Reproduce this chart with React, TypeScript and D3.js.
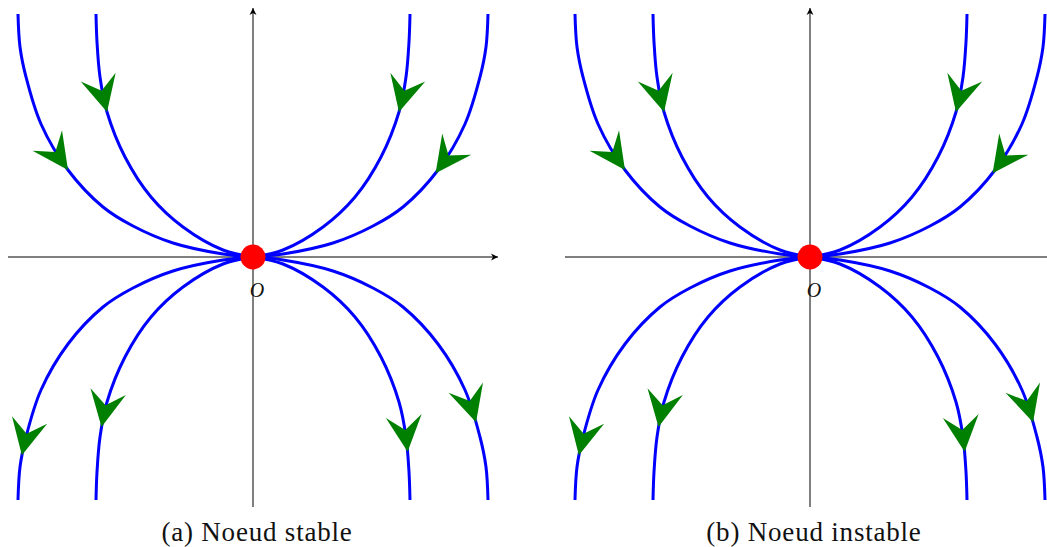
import React, { useEffect, useRef } from "react";
import * as d3 from "d3";

const WIDTH = 1047;
const HEIGHT = 547;

// Horizontal offset of each phase portrait and its caption.
const panelOffsets = [0, 557];
const captions = ["(a) Noeud stable", "(b) Noeud instable"];
const originLabel = "O";

// Trajectory shapes in the first quadrant, as (|x|, |y|) pairs, origin first.
const outerProfile: [number, number][] = [
  [0, 0], [30, 3], [80, 14], [120, 31], [150, 50], [185, 87],
  [212, 133], [227, 180], [233, 210], [235, 243],
];
const innerProfile: [number, number][] = [
  [0, 0], [30, 7], [70, 30], [102, 60], [128, 100], [146, 145],
  [153, 180], [156, 215], [157, 243],
];

// Quadrant of each trajectory and the height (in data units) of its arrow tip.
const trajectoryProfiles = ["outer", "inner", "inner", "outer", "outer", "inner", "inner", "outer"];
const trajectorySignX = [-1, -1, 1, 1, -1, -1, 1, 1];
const trajectorySignY = [1, 1, 1, 1, -1, -1, -1, -1];
const arrowTipY = [87, 145, 145, 84, -198, -170, -195, -165];

const xDomain: [number, number] = [-245, 245];
const yDomain: [number, number] = [-250, 250];

export default function App() {
  const ref = useRef<SVGSVGElement | null>(null);

  useEffect(() => {
    const svg = d3.select(ref.current);
    svg.selectAll("*").remove();

    const defs = svg.append("defs");
    defs
      .append("marker")
      .attr("id", "axis-head")
      .attr("viewBox", "-8 -4 9 8")
      .attr("refX", 0)
      .attr("refY", 0)
      .attr("markerWidth", 9)
      .attr("markerHeight", 8)
      .attr("markerUnits", "userSpaceOnUse")
      .attr("orient", "auto")
      .append("path")
      .attr("d", "M0,0 L-7,-3.5 L-5,0 L-7,3.5 Z")
      .attr("fill", "#000");

    const x = d3.scaleLinear().domain(xDomain).range([8, 498]);
    const y = d3.scaleLinear().domain(yDomain).range([507, 7]);

    const line = d3
      .line<[number, number]>()
      .x((d) => x(d[0]))
      .y((d) => y(d[1]))
      .curve(d3.curveCatmullRom.alpha(0.5));

    panelOffsets.forEach((dx, pi) => {
      const g = svg.append("g").attr("transform", `translate(${dx},0)`);

      // axes
      g.append("line")
        .attr("x1", x(xDomain[0]))
        .attr("x2", x(xDomain[1]))
        .attr("y1", y(0))
        .attr("y2", y(0))
        .attr("stroke", "#000")
        .attr("stroke-width", 1)
        .attr("marker-end", "url(#axis-head)");
      g.append("line")
        .attr("x1", x(0))
        .attr("x2", x(0))
        .attr("y1", y(yDomain[0]))
        .attr("y2", y(yDomain[1]) + 1)
        .attr("stroke", "#000")
        .attr("stroke-width", 1)
        .attr("marker-end", "url(#axis-head)");

      const curves = g.append("g");
      const arrows = g.append("g");

      trajectoryProfiles.forEach((name, i) => {
        const profile = name === "outer" ? outerProfile : innerProfile;
        const sx = trajectorySignX[i];
        const sy = trajectorySignY[i];
        let pts = profile.map(([a, b]) => [a * sx, b * sy] as [number, number]);
        // travel downward on screen: top branches run into the origin
        if (sy > 0) pts = pts.slice().reverse();

        const path = curves
          .append("path")
          .attr("d", line(pts) as string)
          .attr("fill", "none")
          .attr("stroke", "#0000ff")
          .attr("stroke-width", 3);

        const node = path.node() as SVGPathElement;
        const total = node.getTotalLength();
        const targetY = y(arrowTipY[i]);
        let best = 0;
        let bestErr = Infinity;
        for (let l = 0; l <= total; l += 0.5) {
          const p = node.getPointAtLength(l);
          const err = Math.abs(p.y - targetY);
          if (err < bestErr) {
            bestErr = err;
            best = l;
          }
        }
        const tip = node.getPointAtLength(best);
        const back = node.getPointAtLength(Math.max(0, best - 14));
        const angle = (Math.atan2(tip.y - back.y, tip.x - back.x) * 180) / Math.PI;
        arrows
          .append("path")
          .attr("d", "M0,0 L-36,-18 L-22,0 L-36,18 Z")
          .attr("fill", "#008000")
          .attr("transform", `translate(${tip.x},${tip.y}) rotate(${angle})`);
      });

      // equilibrium point
      g.append("circle")
        .attr("cx", x(0))
        .attr("cy", y(0))
        .attr("r", 12.5)
        .attr("fill", "#ff0000");

      g.append("text")
        .attr("x", x(0) + 4)
        .attr("y", y(0) + 40)
        .attr("text-anchor", "middle")
        .attr("font-family", "'Liberation Serif', serif")
        .attr("font-style", "italic")
        .attr("font-size", 20)
        .attr("fill", "#111")
        .text(originLabel);

      g.append("text")
        .attr("x", x(0) + 4)
        .attr("y", 541)
        .attr("text-anchor", "middle")
        .attr("font-family", "'Liberation Serif', serif")
        .attr("font-size", 27)
        .attr("letter-spacing", 0.8)
        .attr("fill", "#111")
        .text(captions[pi]);
    });
  }, []);

  return (
    <svg
      ref={ref}
      width={WIDTH}
      height={HEIGHT}
      style={{ position: "absolute", left: 0, top: 0, background: "#fff" }}
    />
  );
}
